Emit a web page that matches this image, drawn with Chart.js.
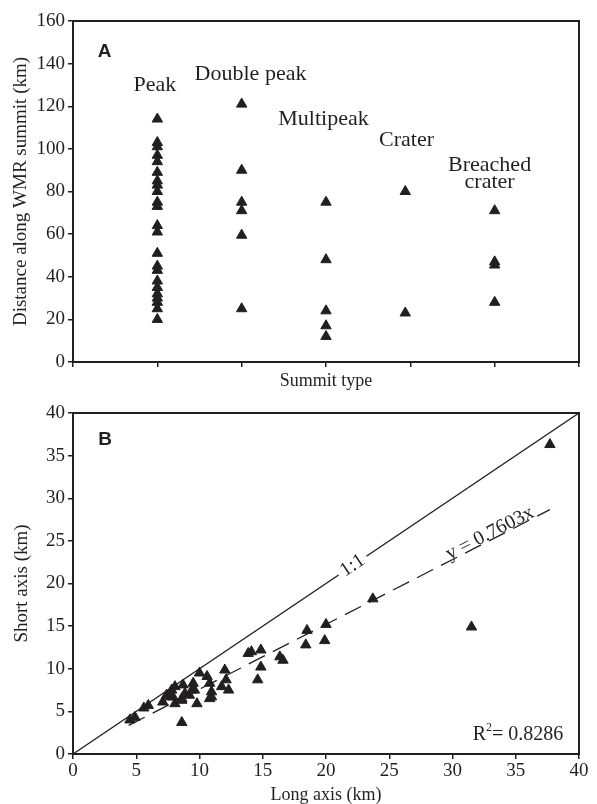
<!DOCTYPE html>
<html>
<head>
<meta charset="utf-8">
<script src="https://cdn.jsdelivr.net/npm/chart.js@4.4.1/dist/chart.umd.min.js"></script>
<style>
  html,body{margin:0;padding:0;background:#fff;}
  #wrap{position:relative;width:597px;height:804px;}
  #cA{position:absolute;left:0;top:0;}
  #cB{position:absolute;left:0;top:390px;}
</style>
</head>
<body>
<div id="wrap">
  <canvas id="cA" width="597" height="390"></canvas>
  <canvas id="cB" width="597" height="414"></canvas>
</div>
<script>
// ---- panel A: distance along WMR summit by summit type ----
const summitTypes = ['Peak', 'Double peak', 'Multipeak', 'Crater', 'Breached crater'];
const summitX = [1, 2, 3, 3.94, 5];
const peakKm = [114, 103, 101, 97, 94, 89, 85, 83, 80, 75, 73, 64, 61, 51, 45, 43, 38, 35, 32, 30, 28, 25, 20];
const doublePeakKm = [121, 90, 75, 71, 59.5, 25];
const multipeakKm = [75, 48, 24, 17, 12];
const craterKm = [80, 23];
const breachedKm = [71, 47, 45.5, 28];
const distTicks = [0, 20, 40, 60, 80, 100, 120, 140, 160];

// ---- panel B: short vs long axis ----
const longAxisKm = [4.5, 4.9, 5.6, 5.95, 7.1, 7.4, 7.7, 7.8, 7.9, 8.06, 8.06, 8.6, 8.6, 8.7, 8.85,
  9.2, 9.4, 9.5, 9.6, 9.8, 8.6, 10.0, 10.6, 10.8, 10.8, 10.95, 10.95, 11.75, 12.0, 12.1, 12.3,
  13.85, 14.1, 14.85, 14.85, 14.6, 16.35, 16.6, 18.5, 18.4, 20.0, 19.9, 23.7, 31.5, 37.7];
const shortAxisKm = [4.0, 4.3, 5.4, 5.7, 6.1, 6.9, 6.7, 7.5, 6.7, 5.9, 7.9, 6.3, 6.5, 8.1, 7.1,
  6.9, 7.5, 8.3, 7.5, 5.9, 3.7, 9.5, 9.1, 8.3, 6.5, 7.3, 6.7, 7.9, 9.85, 8.7, 7.5,
  11.8, 12.0, 12.2, 10.2, 8.7, 11.4, 11.0, 14.5, 12.8, 15.2, 13.3, 18.2, 14.9, 36.3];
const oneToOneKm = [0, 40];
const fitLongKm = [4.4, 37.7];
const fitShortKm = [3.35, 28.66];
const fitLabel = 'y = 0.7603x';
const r2Value = '0.8286';
const axisTicksB = [0, 5, 10, 15, 20, 25, 30, 35, 40];

const SERIF = "'Liberation Serif','Times New Roman',serif";
const INK = '#231f20';

function triSet(pts){
  return {data:pts, pointStyle:'triangle', pointRadius:6, pointHoverRadius:6,
    backgroundColor:INK, borderColor:INK, borderWidth:1, showLine:false};
}

function axisCommon(extra){
  return Object.assign({
    border:{display:true,color:INK,width:2},
    grid:{display:true,drawOnChartArea:false,drawTicks:true,tickLength:5,tickColor:INK,color:INK,lineWidth:1.5},
  },extra);
}

const framePlugin={
  id:'frame',
  afterDatasetsDraw(chart){
    const a=chart.chartArea, c=chart.ctx;
    c.save(); c.strokeStyle=INK; c.lineWidth=2;
    c.strokeRect(a.left,a.top,a.right-a.left,a.bottom-a.top);
    c.restore();
  }
};

// annotation positions in data units (panel A)
const labelPosA=[
  {x:0.97,y:130},{x:2.105,y:135},{x:2.97,y:114},{x:3.955,y:104},{x:4.94,y:92.5}
];

const textPluginA={
  id:'textA',
  afterDatasetsDraw(chart){
    const c=chart.ctx, xs=chart.scales.x, ys=chart.scales.y;
    c.save(); c.fillStyle=INK; c.textAlign='center'; c.textBaseline='middle';
    c.font='22px '+SERIF;
    summitTypes.forEach((t,i)=>{
      const p=labelPosA[i];
      const px=xs.getPixelForValue(p.x), py=ys.getPixelForValue(p.y);
      if(t==='Breached crater'){
        c.fillText('Breached',px,py);
        c.fillText('crater',px,py+17);
      } else c.fillText(t,px,py);
    });
    c.font="bold 19px 'Liberation Sans',Arial,sans-serif";
    c.fillText('A',xs.getPixelForValue(0.374),ys.getPixelForValue(145.5));
    c.restore();
  }
};

new Chart(document.getElementById('cA'),{
  type:'scatter',
  data:{datasets:[
    triSet(peakKm.map(v=>({x:summitX[0],y:v}))),
    triSet(doublePeakKm.map(v=>({x:summitX[1],y:v}))),
    triSet(multipeakKm.map(v=>({x:summitX[2],y:v}))),
    triSet(craterKm.map(v=>({x:summitX[3],y:v}))),
    triSet(breachedKm.map(v=>({x:summitX[4],y:v}))),
  ]},
  options:{
    responsive:false,animation:false,
    layout:{padding:{top:21,right:18,left:0,bottom:0}},
    plugins:{legend:{display:false},tooltip:{enabled:false}},
    scales:{
      x:axisCommon({type:'linear',min:0,max:6,
        ticks:{stepSize:1,display:false},
        title:{display:true,text:'Summit type',color:INK,font:{family:SERIF,size:18,lineHeight:1},padding:{top:0,bottom:0}},
        afterFit(s){s.height=28;}}),
      y:axisCommon({type:'linear',min:0,max:160,
        afterBuildTicks(s){s.ticks=distTicks.map(v=>({value:v}));},
        ticks:{color:INK,padding:3,font:{family:SERIF,size:19}},
        title:{display:true,text:'Distance along WMR summit (km)',color:INK,font:{family:SERIF,size:19},padding:{top:10,bottom:0}},
        afterFit(s){s.width=73;}}),
    }
  },
  plugins:[framePlugin,textPluginA]
});

const textPluginB={
  id:'textB',
  afterDatasetsDraw(chart){
    const c=chart.ctx, xs=chart.scales.x, ys=chart.scales.y;
    const P=(x,y)=>[xs.getPixelForValue(x),ys.getPixelForValue(y)];
    c.save(); c.fillStyle=INK;
    // 1:1 label with gap in the line
    const [x0,y0]=P(oneToOneKm[0],oneToOneKm[0]), [x1,y1]=P(oneToOneKm[1],oneToOneKm[1]);
    const ang=Math.atan2(y1-y0,x1-x0);
    let [lx,ly]=P(22.1,22.1);
    c.translate(lx,ly); c.rotate(ang);
    c.font='20px '+SERIF;
    const w=c.measureText('1:1').width;
    c.fillStyle='#fff'; c.fillRect(-w/2-4,-4,w+8,8);
    c.fillStyle=INK; c.textAlign='center'; c.textBaseline='middle';
    c.fillText('1:1',0,0);
    c.setTransform(1,0,0,1,0,0);
    // fit label along dashed line
    const [f0x,f0y]=P(fitLongKm[0],fitShortKm[0]), [f1x,f1y]=P(fitLongKm[1],fitShortKm[1]);
    const ang2=Math.atan2(f1y-f0y,f1x-f0x);
    const [tx,ty]=P(29.8,29.8*fitShortKm[1]/fitLongKm[1]);
    c.translate(tx,ty); c.rotate(ang2);
    c.textAlign='left'; c.textBaseline='alphabetic';
    c.fillText(fitLabel,0,-1);
    c.setTransform(1,0,0,1,0,0);
    // R^2
    let [rx,ry]=P(31.6,1.6);
    c.textAlign='left'; c.textBaseline='alphabetic';
    c.font='20px '+SERIF;
    c.fillText('R',rx,ry); rx+=c.measureText('R').width;
    c.font='12px '+SERIF;
    c.fillText('2',rx,ry-9); rx+=c.measureText('2').width;
    c.font='20px '+SERIF;
    c.fillText('= '+r2Value,rx,ry);
    // panel letter
    c.font="bold 19px 'Liberation Sans',Arial,sans-serif";
    c.textAlign='center'; c.textBaseline='middle';
    const [bx,by]=P(2.53,36.9);
    c.fillText('B',bx,by);
    c.restore();
  }
};

new Chart(document.getElementById('cB'),{
  type:'scatter',
  data:{datasets:[
    {data:oneToOneKm.map(v=>({x:v,y:v})),showLine:true,pointRadius:0,borderColor:INK,borderWidth:1.3},
    {data:fitLongKm.map((v,i)=>({x:v,y:fitShortKm[i]})),showLine:true,pointRadius:0,borderColor:INK,borderWidth:1.3,borderDash:[18,9]},
    triSet(longAxisKm.map((v,i)=>({x:v,y:shortAxisKm[i]}))),
  ]},
  options:{
    responsive:false,animation:false,
    layout:{padding:{top:23,right:18,left:0,bottom:0}},
    plugins:{legend:{display:false},tooltip:{enabled:false}},
    scales:{
      x:axisCommon({type:'linear',min:0,max:40,
        afterBuildTicks(s){s.ticks=axisTicksB.map(v=>({value:v}));},
        ticks:{color:INK,padding:1,maxRotation:0,font:{family:SERIF,size:19}},
        title:{display:true,text:'Long axis (km)',color:INK,font:{family:SERIF,size:18,lineHeight:1},padding:{top:0,bottom:0}},
        afterFit(s){s.height=50;}}),
      y:axisCommon({type:'linear',min:0,max:40,
        afterBuildTicks(s){s.ticks=axisTicksB.map(v=>({value:v}));},
        ticks:{color:INK,padding:3,font:{family:SERIF,size:19}},
        title:{display:true,text:'Short axis (km)',color:INK,font:{family:SERIF,size:19},padding:{top:11,bottom:0}},
        afterFit(s){s.width=73;}}),
    }
  },
  plugins:[framePlugin,textPluginB]
});
</script>
</body>
</html>
